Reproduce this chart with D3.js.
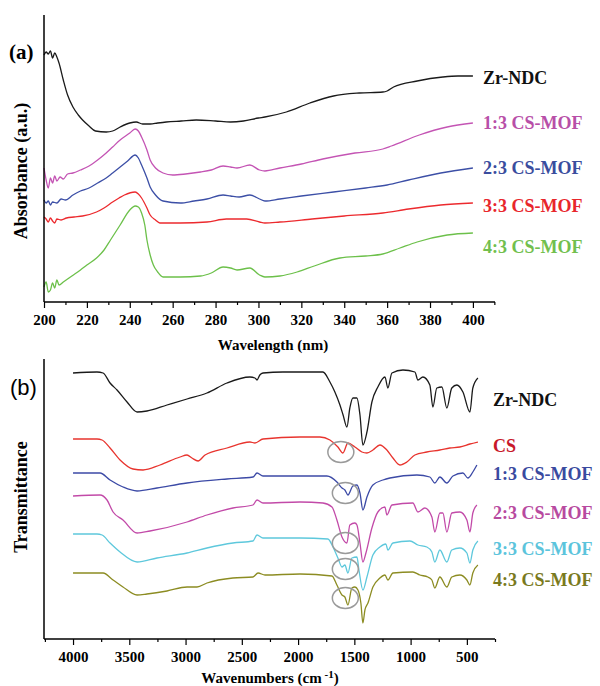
<!DOCTYPE html>
<html><head><meta charset="utf-8">
<script src="https://cdn.jsdelivr.net/npm/d3@7"></script>
<style>body{margin:0;background:#fff}svg{display:block}</style>
</head><body>
<svg id="chart" width="600" height="686"></svg>
<script>
// ---------- Panel (a): UV-Vis absorbance ----------
const uvSeriesNames = ["Zr-NDC", "1:3 CS-MOF", "2:3 CS-MOF", "3:3 CS-MOF", "4:3 CS-MOF"];
const uvTicks = [200, 220, 240, 260, 280, 300, 320, 340, 360, 380, 400];

const uvZrNDC = [[200,2.47],[201,2.50],[202,2.48],[203,2.51],[204,2.44],[205,2.49],[206,2.45],[207,2.39],[209,2.22],[211,2.07],[213.5,1.95],[216,1.87],[218,1.82],[221,1.76],[224,1.71],[229,1.70],[232,1.71],[235.5,1.75],[240,1.79],[243,1.80],[246,1.78],[249.5,1.78],[253,1.79],[257,1.80],[264,1.81],[271,1.82],[280,1.81],[287,1.80],[293,1.81],[300,1.84],[303,1.85],[313,1.90],[324,1.99],[335,2.06],[347,2.09],[358,2.10],[360,2.11],[363,2.15],[374,2.21],[386,2.25],[393,2.26],[400,2.26]];
const uv13 = [[200,1.34],[201,1.22],[202,1.14],[203,1.24],[204,1.19],[205,1.26],[206,1.21],[207.5,1.25],[209,1.23],[211,1.28],[213.5,1.29],[217,1.32],[221,1.36],[225,1.42],[229,1.49],[232,1.55],[235.5,1.62],[240,1.69],[242.5,1.73],[244,1.71],[245.5,1.65],[248,1.52],[249.5,1.42],[252,1.34],[255.5,1.29],[260,1.27],[266,1.28],[273,1.30],[278,1.32],[283.5,1.36],[287,1.35],[290,1.34],[296,1.37],[300.5,1.32],[303,1.31],[310,1.34],[320,1.38],[330,1.43],[345,1.49],[358,1.53],[362,1.56],[375,1.67],[388,1.75],[400,1.79]];
const uv23 = [[200,1.02],[201,0.99],[202,1.01],[203,0.97],[204,1.00],[206,0.99],[208,1.03],[210,1.02],[213.5,1.07],[217,1.11],[221,1.14],[225,1.19],[229,1.24],[232,1.29],[235.5,1.35],[239,1.41],[242.5,1.47],[244,1.44],[245.5,1.37],[248,1.24],[249.5,1.15],[252,1.07],[255.5,1.01],[263.5,0.99],[270,1.01],[276,1.03],[283.5,1.07],[287,1.06],[291,1.05],[296,1.07],[300.5,1.03],[303,1.01],[310,1.03],[320,1.06],[335,1.10],[350,1.14],[360,1.17],[370,1.22],[385,1.29],[400,1.34]];
const uv33 = [[200,0.85],[201,0.83],[202,0.80],[203,0.84],[204,0.81],[205,0.79],[206,0.83],[208,0.82],[210.5,0.84],[214,0.85],[218,0.86],[224.5,0.90],[228,0.94],[232,1.00],[235,1.04],[237.5,1.07],[242.5,1.10],[244,1.08],[245.5,1.04],[248,0.94],[249.5,0.87],[252,0.82],[254,0.79],[263.5,0.79],[276,0.80],[285,0.83],[294.5,0.83],[300.5,0.80],[303,0.79],[310,0.80],[325,0.83],[340,0.86],[358,0.89],[370,0.93],[385,0.97],[400,0.99]];
const uv43 = [[200,0.15],[201,0.20],[202,0.10],[203,0.12],[204,0.19],[205,0.14],[206,0.22],[207,0.17],[209,0.20],[213,0.26],[217,0.32],[220,0.37],[224.5,0.44],[228,0.52],[231,0.62],[235.5,0.77],[240,0.92],[242.5,0.96],[244,0.95],[245.5,0.89],[247,0.77],[248,0.62],[249.5,0.47],[251,0.37],[253,0.30],[255.5,0.25],[263.5,0.25],[273,0.26],[278,0.29],[283.5,0.35],[287,0.34],[290,0.32],[296,0.34],[300.5,0.27],[303,0.25],[310,0.26],[318,0.30],[326,0.36],[338,0.44],[350,0.46],[358,0.48],[366,0.54],[374,0.60],[388,0.67],[400,0.69]];

// ---------- Panel (b): FTIR transmittance ----------
const irSeriesNames = ["Zr-NDC", "CS", "1:3 CS-MOF", "2:3 CS-MOF", "3:3 CS-MOF", "4:3 CS-MOF"];
const irTicks = [4000, 3500, 3000, 2500, 2000, 1500, 1000, 500];

const irZrNDC = [[4000,2.66],[3787,2.67],[3733,2.66],[3671,2.56],[3609,2.49],[3520,2.37],[3431,2.27],[3343,2.28],[3165,2.34],[2987,2.40],[2810,2.46],[2632,2.56],[2428,2.62],[2383,2.61],[2365,2.59],[2340,2.64],[2312,2.66],[2134,2.67],[1983,2.67],[1779,2.67],[1717,2.57],[1673,2.47],[1628,2.34],[1600,2.24],[1566,2.12],[1540,2.31],[1513,2.41],[1477,2.41],[1450,2.24],[1424,1.94],[1388,2.07],[1344,2.37],[1291,2.52],[1228,2.62],[1202,2.51],[1166,2.66],[1068,2.69],[962,2.67],[935,2.59],[891,2.62],[829,2.54],[802,2.32],[767,2.51],[722,2.52],[678,2.31],[634,2.51],[589,2.54],[535,2.47],[473,2.27],[447,2.51],[402,2.61]];
const irCS = [[4000,2.00],[3787,2.00],[3742,1.99],[3671,1.91],[3582,1.79],[3467,1.70],[3378,1.69],[3227,1.74],[3049,1.82],[2987,1.84],[2943,1.81],[2889,1.78],[2827,1.84],[2632,1.91],[2428,1.97],[2383,1.96],[2312,2.00],[1983,2.02],[1806,2.02],[1717,1.99],[1646,1.92],[1602,1.86],[1557,1.96],[1495,1.92],[1433,1.87],[1388,1.86],[1335,1.89],[1273,1.94],[1211,1.89],[1157,1.81],[1095,1.74],[1033,1.77],[962,1.84],[856,1.87],[740,1.89],[651,1.91],[562,1.92],[473,1.95],[402,1.97]];
const ir13 = [[4000,1.66],[3760,1.66],[3671,1.59],[3556,1.52],[3431,1.48],[3254,1.51],[2987,1.56],[2632,1.60],[2401,1.62],[2365,1.66],[2312,1.63],[1983,1.63],[1744,1.63],[1655,1.57],[1610,1.51],[1584,1.49],[1557,1.44],[1513,1.53],[1477,1.54],[1450,1.46],[1424,1.29],[1388,1.42],[1335,1.54],[1246,1.59],[1184,1.61],[944,1.64],[829,1.62],[785,1.56],[740,1.62],[678,1.56],[624,1.63],[535,1.66],[491,1.61],[447,1.67],[411,1.74]];
const ir23 = [[4000,1.43],[3760,1.44],[3698,1.39],[3644,1.27],[3556,1.19],[3431,1.06],[3316,1.08],[2987,1.17],[2810,1.24],[2579,1.31],[2401,1.34],[2365,1.39],[2312,1.36],[1983,1.37],[1779,1.36],[1699,1.32],[1655,1.19],[1610,1.02],[1566,0.96],[1540,1.14],[1495,1.16],[1477,1.14],[1450,0.96],[1424,0.77],[1397,0.86],[1344,1.11],[1291,1.27],[1228,1.32],[1211,1.24],[1166,1.34],[980,1.36],[935,1.27],[873,1.31],[811,1.22],[785,1.07],[740,1.26],[713,1.26],[678,1.07],[634,1.26],[562,1.27],[500,1.19],[473,1.07],[447,1.26],[411,1.34]];
const ir33 = [[4000,1.05],[3787,1.05],[3742,1.04],[3671,0.96],[3582,0.87],[3431,0.77],[3254,0.81],[2987,0.86],[2810,0.91],[2579,0.96],[2401,0.98],[2365,1.04],[2312,1.01],[1983,1.01],[1735,1.00],[1690,0.92],[1646,0.81],[1610,0.72],[1584,0.74],[1557,0.66],[1522,0.81],[1477,0.82],[1459,0.69],[1424,0.49],[1388,0.62],[1335,0.84],[1273,0.92],[1220,0.95],[1202,0.89],[1157,0.96],[1006,0.98],[935,0.94],[856,0.92],[811,0.87],[785,0.77],[740,0.89],[678,0.77],[634,0.89],[562,0.91],[500,0.86],[473,0.76],[447,0.89],[402,0.98]];
const ir43 = [[4000,0.66],[3787,0.66],[3733,0.66],[3644,0.59],[3556,0.52],[3431,0.44],[3343,0.45],[3165,0.48],[2987,0.52],[2898,0.52],[2810,0.56],[2579,0.61],[2401,0.62],[2356,0.66],[2294,0.64],[1983,0.65],[1699,0.63],[1655,0.54],[1610,0.44],[1584,0.42],[1557,0.34],[1522,0.51],[1495,0.52],[1468,0.49],[1442,0.36],[1424,0.16],[1406,0.29],[1379,0.36],[1335,0.52],[1273,0.61],[1228,0.64],[1202,0.59],[1157,0.66],[980,0.67],[918,0.64],[847,0.62],[811,0.59],[785,0.51],[740,0.62],[678,0.52],[634,0.62],[562,0.64],[500,0.59],[473,0.54],[447,0.66],[402,0.74]];

// highlighted band (~1580 cm-1) circles: [wavenumber, transmittance]
const irCircles = [[1620,1.87],[1580,1.46],[1580,0.96],[1580,0.70],[1580,0.41]];

// ---------- styling / layout ----------
const uvColors = ["#1a1a1a", "#c454b4", "#3c4fa6", "#ec2a2e", "#6cc04a"];
const uvLabelColors = ["#111111", "#b84fa8", "#3a4d9e", "#e8262c", "#72bf4e"];
const irColors = ["#1a1a1a", "#e8342e", "#3c4aa6", "#c24aa8", "#5ec8dc", "#8c8c22"];
const irLabelColors = ["#111111", "#c8182a", "#3a4aa0", "#b84aa0", "#5cc4dc", "#7a7a1e"];
const uvLabelY = [84, 129, 174, 212, 253];
const irLabelY = [406, 452, 480, 519, 555, 586];

const svg = d3.select("#chart");
const serif = "'Liberation Serif','Times New Roman',serif";

// ---- Panel (a) ----
const ax = d3.scaleLinear().domain([200, 410.3]).range([44, 495]);
const ay = d3.scaleLinear().domain([0, 2.87]).range([302, 15]);
const gA = svg.append("g");
const uvData = [uvZrNDC, uv13, uv23, uv33, uv43];
const lineA = d3.line().x(d => ax(d[0])).y(d => ay(d[1])).curve(d3.curveMonotoneX);
uvData.forEach((s, i) => {
  gA.append("path").attr("d", lineA(s)).attr("fill", "none")
    .attr("stroke", uvColors[i]).attr("stroke-width", 1.3).attr("stroke-linejoin", "round");
});
// axes
const axA = d3.axisBottom(ax).tickValues(uvTicks).tickSize(6).tickPadding(6).tickFormat(d3.format("d"));
const gAx = gA.append("g").attr("transform", "translate(0,302)").call(axA);
gA.append("g").attr("transform", "translate(0,302)")
  .call(d3.axisBottom(ax).tickValues(d3.range(210, 411, 20)).tickSize(3).tickFormat(""))
  .call(g => g.select(".domain").remove());
gAx.select(".domain").attr("d", "M44,0H495");
svg.append("line").attr("x1", 44).attr("x2", 44).attr("y1", 15).attr("y2", 302).attr("stroke", "#000").attr("stroke-width", 1.5);
gAx.selectAll("text").attr("font-family", serif).attr("font-weight", "bold").attr("font-size", 15).attr("fill", "#000");
gA.selectAll(".domain").attr("stroke-width", 1.5);
gA.selectAll(".tick line").attr("stroke-width", 1.2);
// labels
uvSeriesNames.forEach((n, i) => {
  gA.append("text").attr("x", 483).attr("y", uvLabelY[i]).text(n)
    .attr("font-family", serif).attr("font-weight", "bold").attr("font-size", 18).attr("fill", uvLabelColors[i]);
});
svg.append("text").attr("x", 273).attr("y", 350).attr("text-anchor", "middle").text("Wavelength (nm)")
  .attr("font-family", serif).attr("font-weight", "bold").attr("font-size", 15);
svg.append("text").attr("transform", "translate(27,171) rotate(-90)").attr("text-anchor", "middle").text("Absorbance (a.u.)")
  .attr("font-family", serif).attr("font-weight", "bold").attr("font-size", 18);
svg.append("text").attr("x", 9).attr("y", 59).text("(a)")
  .attr("font-family", serif).attr("font-weight", "bold").attr("font-size", 21);

// ---- Panel (b) ----
const bx = d3.scaleLinear().domain([4258, 250]).range([44, 495]);
const by = d3.scaleLinear().domain([0, 2.8]).range([639, 359]);
const gB = svg.append("g");
const irData = [irZrNDC, irCS, ir13, ir23, ir33, ir43];
const lineB = d3.line().x(d => bx(d[0])).y(d => by(d[1])).curve(d3.curveMonotoneX);
irData.forEach((s, i) => {
  gB.append("path").attr("d", lineB(s)).attr("fill", "none")
    .attr("stroke", irColors[i]).attr("stroke-width", 1.3).attr("stroke-linejoin", "round");
});
gB.selectAll("ellipse.hl").data(irCircles).join("ellipse")
  .attr("cx", d => bx(d[0])).attr("cy", d => by(d[1])).attr("rx", 13).attr("ry", 10.5)
  .attr("fill", "none").attr("stroke", "#9a9a9a").attr("stroke-width", 1.5);
const gBx = gB.append("g").attr("transform", "translate(0,639)")
  .call(d3.axisBottom(bx).tickValues(irTicks).tickSize(6).tickPadding(6).tickFormat(d3.format("d")));
gB.append("g").attr("transform", "translate(0,639)")
  .call(d3.axisBottom(bx).tickValues(d3.range(4250, 249, -500)).tickSize(3).tickFormat(""))
  .call(g => g.select(".domain").remove());
gBx.select(".domain").attr("d", "M44,0H495");
svg.append("line").attr("x1", 44).attr("x2", 44).attr("y1", 359).attr("y2", 639).attr("stroke", "#000").attr("stroke-width", 1.5);
gBx.selectAll("text").attr("font-family", serif).attr("font-weight", "bold").attr("font-size", 15).attr("fill", "#000");
gB.selectAll(".domain").attr("stroke-width", 1.5);
gB.selectAll(".tick line").attr("stroke-width", 1.2);
irSeriesNames.forEach((n, i) => {
  gB.append("text").attr("x", 493).attr("y", irLabelY[i]).text(n)
    .attr("font-family", serif).attr("font-weight", "bold").attr("font-size", 18).attr("fill", irLabelColors[i]);
});
const wt = svg.append("text").attr("x", 270).attr("y", 683).attr("text-anchor", "middle")
  .attr("font-family", serif).attr("font-weight", "bold").attr("font-size", 15);
wt.append("tspan").text("Wavenumbers (cm");
wt.append("tspan").attr("dy", -5).attr("font-size", 11).text(" -1");
wt.append("tspan").attr("dy", 5).text(")");
svg.append("text").attr("transform", "translate(27,497) rotate(-90)").attr("text-anchor", "middle").text("Transmittance")
  .attr("font-family", serif).attr("font-weight", "bold").attr("font-size", 18);
svg.append("text").attr("x", 10).attr("y", 395).text("(b)")
  .attr("font-family", "'Liberation Sans',Arial,sans-serif").attr("font-size", 22);
</script>
</body></html>
